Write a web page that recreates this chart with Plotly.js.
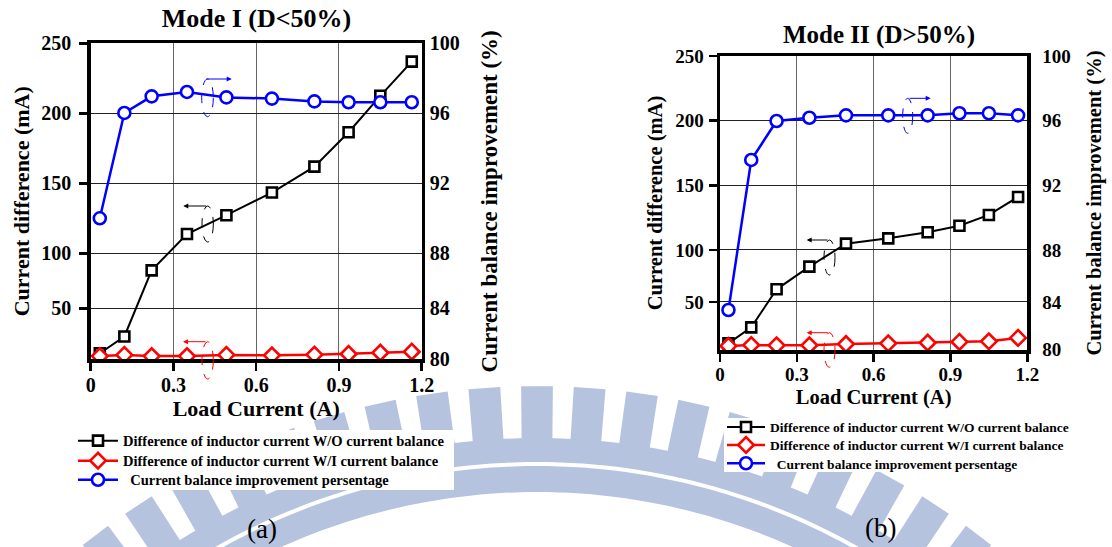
<!DOCTYPE html>
<html>
<head>
<meta charset="utf-8">
<script src="https://cdn.plot.ly/plotly-3.0.1.min.js"></script>
<style>html,body{margin:0;padding:0;background:#fff;}#chart{width:1112px;height:547px;}</style>
</head>
<body>
<div id="chart"></div>
<script>
// ---------------- data ----------------
const loadCurrent = [0.033, 0.122, 0.221, 0.349, 0.492, 0.657, 0.811, 0.935, 1.05, 1.164];
// Mode I (D<50%)
const modeI_withoutBalance = [28.6, 40.6, 87.8, 113.8, 127.2, 143.4, 161.9, 186.5, 212.5, 236.9];
const modeI_withBalance    = [26.6, 27.4, 26.6, 26.6, 27.4, 27.1, 27.6, 28.1, 29.0, 29.7];
const modeI_improvement    = [90.0, 96.02, 96.97, 97.22, 96.91, 96.84, 96.68, 96.63, 96.63, 96.63];
// Mode II (D>50%)
const modeII_withoutBalance = [27.8, 40.2, 69.6, 87.1, 104.9, 109.0, 113.7, 118.8, 127.1, 141.0];
const modeII_withBalance    = [25.8, 26.5, 26.3, 26.3, 27.3, 27.8, 28.3, 28.9, 29.4, 32.0];
const modeII_improvement    = [84.29, 93.57, 95.98, 96.18, 96.33, 96.33, 96.33, 96.46, 96.46, 96.33];

const seriesNames = [
  'Difference of inductor current W/O current balance',
  'Difference of inductor current W/I current balance',
  '\u00a0\u00a0Current balance improvement persentage'
];
const xTickLabels = ['0', '0.3', '0.6', '0.9', '1.2'];
const xTickValues = [0, 0.3, 0.6, 0.9, 1.2];
const leftTickLabels  = ['50', '100', '150', '200', '250'];
const rightTickLabels = ['80', '84', '88', '92', '96', '100'];
// the source figure has uneven spacing for its lowest ticks; these are the
// axis values at which the printed labels sit
const leftTickValuesI   = [60.7, 100, 150, 200, 250];
const rightTickValuesI  = [81.95, 84.86, 88, 92, 96, 100];
const leftTickValuesII  = [59.8, 100, 150, 200, 250];
const rightTickValuesII = [81.83, 84.79, 88, 92, 96, 100];

// ---------------- layout helpers ----------------
const W = 1112, H = 547;
const PX = x => x / W;
const PY = y => 1 - y / H;
const FONT = 'Liberation Serif, Times New Roman, serif';
const bold = (size, color) => ({family: FONT, size: size, color: color || '#000', weight: 'bold'});

function line(color, w) { return {color: color, width: w}; }

const traces = [
  {x: loadCurrent, y: modeI_withoutBalance, xaxis: 'x', yaxis: 'y', name: seriesNames[0], legend: 'legend',
   mode: 'lines+markers', line: line('#000', 2),
   marker: {symbol: 'square', size: 10, color: '#fff', line: line('#000', 2.6)}},
  {x: loadCurrent, y: modeI_withBalance, xaxis: 'x', yaxis: 'y', name: seriesNames[1], legend: 'legend2',
   mode: 'lines+markers', line: line('#ff0000', 2.5),
   marker: {symbol: 'diamond', size: 12, color: '#fff', line: line('#ff0000', 2.6)}},
  {x: loadCurrent, y: modeI_improvement, xaxis: 'x', yaxis: 'y2', name: seriesNames[2], legend: 'legend3',
   mode: 'lines+markers', line: line('#0000ff', 2.5),
   marker: {symbol: 'circle', size: 12, color: '#fff', line: line('#0000ff', 2.6)}},
  {x: loadCurrent, y: modeII_withoutBalance, xaxis: 'x2', yaxis: 'y3', name: seriesNames[0], legend: 'legend4',
   mode: 'lines+markers', line: line('#000', 2),
   marker: {symbol: 'square', size: 10, color: '#fff', line: line('#000', 2.6)}},
  {x: loadCurrent, y: modeII_withBalance, xaxis: 'x2', yaxis: 'y3', name: seriesNames[1], legend: 'legend5',
   mode: 'lines+markers', line: line('#ff0000', 2.5),
   marker: {symbol: 'diamond', size: 12, color: '#fff', line: line('#ff0000', 2.6)}},
  {x: loadCurrent, y: modeII_improvement, xaxis: 'x2', yaxis: 'y4', name: seriesNames[2], legend: 'legend6',
   mode: 'lines+markers', line: line('#0000ff', 2.5),
   marker: {symbol: 'circle', size: 12, color: '#fff', line: line('#0000ff', 2.6)}}
];

function xAxis(domain, anchor, fs, standoff, titleSize, titleStandoff) {
  return {
    domain: domain, anchor: anchor, range: [0, 1.2], tickvals: xTickValues, ticktext: xTickLabels,
    showline: true, linewidth: 3.5, linecolor: '#000', mirror: true,
    ticks: 'outside', ticklen: 8, tickwidth: 2.5, tickcolor: '#000',
    showgrid: true, gridcolor: '#666', gridwidth: 1, zeroline: false,
    tickfont: bold(fs), ticklabelstandoff: standoff,
    title: {text: 'Load Current (A)', font: bold(titleSize), standoff: titleStandoff}
  };
}
function yLeft(domain, anchor, range, tv, fs, standoff, titleSize, titleStandoff) {
  return {
    domain: domain, anchor: anchor, range: range, tickvals: tv, ticktext: leftTickLabels,
    showline: true, linewidth: 3.5, linecolor: '#000', mirror: true,
    ticks: 'outside', ticklen: 8, tickwidth: 2.5, tickcolor: '#000',
    showgrid: true, gridcolor: '#222', gridwidth: 1, zeroline: false,
    tickfont: bold(fs), ticklabelstandoff: standoff,
    title: {text: 'Current difference (mA)', font: bold(titleSize), standoff: titleStandoff}
  };
}
function yRight(overlay, anchor, range, tv, fs, standoff, titleSize, titleStandoff) {
  return {
    overlaying: overlay, side: 'right', anchor: anchor, range: range, tickvals: tv, ticktext: rightTickLabels,
    showline: false, ticks: '', showgrid: false, zeroline: false,
    tickfont: bold(fs), ticklabelstandoff: standoff,
    title: {text: 'Current balance improvement (%)', font: bold(titleSize), standoff: titleStandoff}
  };
}
function yInner(overlay, anchor, range, tv) {
  return {overlaying: overlay, side: 'left', anchor: anchor, range: range, tickvals: tv,
    showticklabels: false, showline: false, showgrid: false, zeroline: false,
    ticks: 'inside', ticklen: 9, tickwidth: 2.5, tickcolor: '#000'};
}

const rangeI = [24.29, 250], rangeI2 = [81.943, 100];
const rangeII = [22.67, 250], rangeII2 = [81.815, 100];

// ---------------- watermark (decorative logo in the background) ----------------
const shapes = [];
const WM = 'rgb(182,195,222)';
const C = {x: 537, y: 1114};
function pt(r, deg) { const t = deg * Math.PI / 180; return [C.x + r * Math.sin(t), C.y - r * Math.cos(t)]; }
function pathFrom(points) { return 'M ' + points.map(p => PX(p[0]).toFixed(5) + ',' + PY(p[1]).toFixed(5)).join(' L ') + ' Z'; }
function ring(r0, r1, a0, a1) {
  const pts = [];
  for (let a = a0; a <= a1 + 1e-9; a += 1) pts.push(pt(r1, a));
  for (let a = a1; a >= a0 - 1e-9; a -= 1) pts.push(pt(r0, a));
  return pathFrom(pts);
}
shapes.push({type: 'path', xref: 'paper', yref: 'paper', layer: 'below', path: ring(652, 676, -50, 50), fillcolor: WM, line: {width: 0}});
shapes.push({type: 'path', xref: 'paper', yref: 'paper', layer: 'below', path: ring(622, 648, -50, 50), fillcolor: WM, line: {width: 0}});
for (let k = -10; k <= 10; k++) {
  const a = k * 4.15, hw = 1.25;
  shapes.push({type: 'path', xref: 'paper', yref: 'paper', layer: 'below',
    path: pathFrom([pt(670, a - hw * 1.05), pt(728, a - hw), pt(728, a + hw), pt(670, a + hw * 1.05)]),
    fillcolor: WM, line: {width: 0}});
}
// white panels behind the two legends
function whiteRect(x0, x1, y0, y1) {
  shapes.push({type: 'rect', xref: 'paper', yref: 'paper', layer: 'below', x0: PX(x0), x1: PX(x1), y0: PY(y1), y1: PY(y0),
    fillcolor: '#fff', line: {width: 0}});
}
whiteRect(74, 454, 430, 490);
whiteRect(724, 1078, 418, 472);

// ---------------- small axis-pointer marks (dashed ellipses + arrows) ----------------
function ellipse(x0, x1, y0, y1, color) {
  shapes.push({type: 'circle', xref: 'paper', yref: 'paper', x0: PX(x0), x1: PX(x1), y0: PY(y1), y1: PY(y0),
    line: {color: color, width: 1, dash: 'dash'}, fillcolor: 'rgba(0,0,0,0)'});
}
ellipse(201.7, 213.3, 79, 116.7, '#0000ff');
ellipse(202, 213.3, 206, 242, '#000');
ellipse(202, 213.3, 341.7, 379, '#ff0000');
ellipse(902.7, 912.7, 98.3, 133.3, '#0000ff');
ellipse(824, 835, 240, 275, '#000');
ellipse(824, 835, 332.7, 367.3, '#ff0000');

const annotations = [];
function arrow(tipX, tipY, tailX, color) {
  annotations.push({xref: 'paper', yref: 'paper', x: PX(tipX), y: PY(tipY), ax: tailX - tipX, ay: 0,
    text: '', showarrow: true, arrowhead: 2, arrowsize: 1, arrowwidth: 1, arrowcolor: color});
}
arrow(231.7, 79, 205, '#0000ff');
arrow(183.3, 206, 207.7, '#000');
arrow(183, 341.7, 207, '#ff0000');
arrow(930.7, 98.3, 908, '#0000ff');
arrow(806.7, 240, 829, '#000');
arrow(806.7, 332.7, 829.3, '#ff0000');

annotations.push({xref: 'paper', yref: 'paper', x: PX(878.5), y: PY(35), xanchor: 'center', yanchor: 'middle',
  text: 'Mode II (D>50%)', showarrow: false, font: bold(25)});
annotations.push({xref: 'paper', yref: 'paper', x: PX(261.7), y: PY(529), xanchor: 'center', yanchor: 'middle',
  text: '(a)', showarrow: false, font: {family: FONT, size: 27, color: '#000'}});
annotations.push({xref: 'paper', yref: 'paper', x: PX(880), y: PY(528), xanchor: 'center', yanchor: 'middle',
  text: '(b)', showarrow: false, font: {family: FONT, size: 27, color: '#000'}});

function legendAt(xPix, yPix, fs, iw) {
  return {x: PX(xPix), y: PY(yPix), xanchor: 'left', yanchor: 'middle', bgcolor: 'rgba(0,0,0,0)', borderwidth: 0,
          font: bold(fs), tracegroupgap: 0, itemwidth: iw};
}

const layout = {
  width: W, height: H, margin: {l: 0, r: 0, t: 0, b: 0, pad: 0},
  paper_bgcolor: '#fff', plot_bgcolor: 'rgba(0,0,0,0)',
  title: {text: 'Mode I (D<50%)', font: bold(26), x: PX(256.5), xref: 'paper', xanchor: 'center',
          y: PY(18), yref: 'paper', yanchor: 'middle'},
  xaxis:  xAxis([PX(90.7), PX(421.7)], 'y', 20, -3, 22, 4),
  yaxis:  yLeft([PY(359.3), PY(43.3)], 'x', rangeI, leftTickValuesI, 20, 4, 22, 6),
  yaxis2: yRight('y', 'x', rangeI2, rightTickValuesI, 20, 7, 23, 22),
  yaxis5: yInner('y', 'x', rangeI, leftTickValuesI),
  xaxis2: xAxis([PX(720), PX(1027.3)], 'y3', 19, -3, 20.5, 6),
  yaxis3: yLeft([PY(350), PY(56)], 'x2', rangeII, leftTickValuesII, 19, 1, 20.5, 8),
  yaxis4: yRight('y3', 'x2', rangeII2, rightTickValuesII, 19, 14, 20.5, 16),
  yaxis6: yInner('y3', 'x2', rangeII, leftTickValuesII),
  showlegend: true,
  legend:  legendAt(73, 440.7, 14.5, 40),
  legend2: legendAt(73, 460.7, 14.5, 40),
  legend3: legendAt(73, 479.8, 14.5, 40),
  legend4: legendAt(722, 427.3, 13.5, 38),
  legend5: legendAt(722, 445.2, 13.5, 38),
  legend6: legendAt(722, 463.5, 13.5, 38),
  shapes: shapes,
  annotations: annotations
};

Plotly.newPlot('chart', traces, layout, {displayModeBar: false, staticPlot: true});
</script>
</body>
</html>
